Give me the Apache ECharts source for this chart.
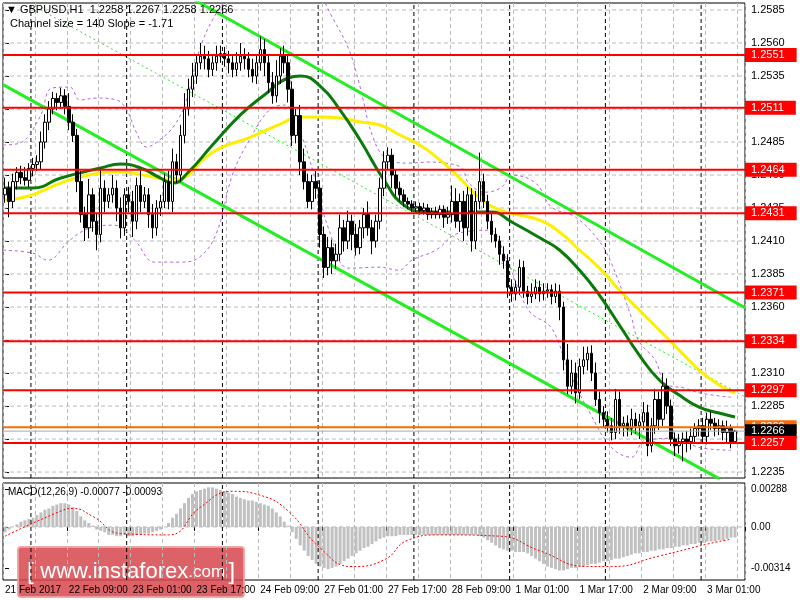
<!DOCTYPE html>
<html>
<head>
<meta charset="utf-8">
<script src="https://cdn.jsdelivr.net/npm/echarts@6/dist/echarts.min.js"></script>
<style>html,body{margin:0;padding:0;background:#fff}#chart{width:800px;height:600px}</style>
</head>
<body>
<div id="chart"></div>
<script>
// closes, one per H1 bar (21 Feb 17:00 .. 3 Mar 04:00)
const closes = [
  1.2450,1.2440,1.2455,1.2462,1.2458,1.2456,1.2465,1.2468,
  1.2470,1.2485,1.2500,1.2510,1.2518,1.2515,1.2520,1.2512,
  1.2500,1.2490,1.2455,1.2430,1.2420,1.2445,1.2425,1.2415,
  1.2450,1.2440,1.2445,1.2450,1.2435,1.2420,1.2445,1.2440,
  1.2425,1.2452,1.2440,1.2445,1.2430,1.2420,1.2435,1.2440,
  1.2455,1.2440,1.2470,1.2460,1.2490,1.2510,1.2525,1.2535,
  1.2545,1.2550,1.2548,1.2540,1.2545,1.2550,1.2552,1.2548,
  1.2545,1.2540,1.2545,1.2550,1.2548,1.2540,1.2535,1.2545,
  1.2555,1.2545,1.2530,1.2520,1.2535,1.2550,1.2545,1.2525,
  1.2490,1.2505,1.2470,1.2455,1.2440,1.2455,1.2450,1.2415,
  1.2390,1.2405,1.2395,1.2400,1.2420,1.2410,1.2425,1.2415,
  1.2405,1.2420,1.2430,1.2420,1.2410,1.2425,1.2450,1.2470,
  1.2475,1.2460,1.2450,1.2445,1.2440,1.2438,1.2435,1.2436,
  1.2433,1.2435,1.2430,1.2432,1.2430,1.2434,1.2428,1.2430,
  1.2440,1.2425,1.2440,1.2420,1.2445,1.2410,1.2440,1.2455,
  1.2440,1.2425,1.2415,1.2410,1.2400,1.2395,1.2375,1.2370,
  1.2375,1.2390,1.2372,1.2368,1.2370,1.2375,1.2370,1.2372,
  1.2373,1.2368,1.2372,1.2360,1.2320,1.2300,1.2310,1.2295,
  1.2315,1.2320,1.2325,1.2310,1.2290,1.2280,1.2275,1.2270,
  1.2265,1.2290,1.2270,1.2272,1.2268,1.2275,1.2270,1.2273,
  1.2280,1.2255,1.2270,1.2290,1.2275,1.2300,1.2285,1.2260,
  1.2255,1.2258,1.2260,1.2258,1.2262,1.2268,1.2270,1.2262,
  1.2275,1.2272,1.2268,1.2270,1.2265,1.2268,1.2258,1.2266
];
const firstOpen = 1.2445;
// wick lengths in pips above / below the body
const wickUp = [
  8,5,6,4,5,8,4,5, 5,8,6,6,5,4,6,5, 10,6,5,8,6,12,5,6, 15,6,5,10,6,8,5,6,
  8,6,12,6,5,8,6,5, 6,8,10,6,8,12,8,10, 6,10,8,6,5,8,6,5, 6,5,8,10,6,5,8,6,
  10,8,6,8,12,6,8,6, 6,5,8,10,6,5,8,6, 6,8,6,8,10,6,8,5, 8,6,5,10,6,5,8,8,
  6,5,4,5,4,3,3,4, 3,4,3,3,4,3,3,6, 12,10,6,8,6,5,8,22, 6,5,6,5,4,6,5,6,
  5,6,5,4,8,6,5,6, 5,4,6,5,4,12,10,8, 6,10,5,6,8,6,5,6, 6,8,6,5,6,8,5,6,
  8,6,6,8,6,10,6,5, 5,6,5,6,6,4,5,6, 5,6,4,5,4,6,3,1
];
const wickDn = [
  6,12,5,6,5,4,5,6, 5,6,5,6,4,6,5,6, 6,5,8,6,10,8,8,12, 6,8,5,6,10,8,6,8,
  12,6,8,5,10,8,6,6, 5,6,8,6,5,6,5,6, 6,5,8,6,5,6,5,6, 8,6,5,6,8,6,5,6,
  6,10,8,6,5,6,8,10, 8,6,10,6,5,6,8,10, 8,6,10,6,5,8,6,12, 6,5,8,6,10,5,6,6,
  6,10,6,5,4,4,3,3, 3,3,4,3,3,3,8,5, 6,5,8,10,6,8,6,6, 5,6,6,5,8,6,8,6,
  5,6,5,6,5,4,6,5, 5,6,5,10,8,6,6,8, 5,6,8,6,5,8,6,5, 6,5,6,8,6,5,6,10,
  6,8,5,6,8,5,6,5, 8,6,15,8,6,5,6,5, 6,5,6,5,6,8,5,0
];
// moving averages read at sampled bars [bar, price]
const maFast = [[0,1.24502],[7,1.24502],[14,1.24577],[24,1.24653],[29,1.24683],[34,1.24653],[39,1.24577],
  [42,1.24539],[46,1.24623],[52,1.24827],[59,1.25055],[65,1.25206],[71,1.25335],[74,1.2535],[79,1.25274],
  [84,1.25092],[89,1.24865],[95,1.24562],[100,1.24373],[106,1.2432],[114,1.2432],[122,1.2432],[127,1.24244],
  [135,1.24108],[139,1.24032],[144,1.2388],[149,1.23691],[154,1.23464],[159,1.23236],[164,1.23047],
  [169,1.22933],[174,1.22842],[179,1.22797],[183,1.22767]];
const maSlow = [[0,1.24411],[6,1.24441],[14,1.24539],[21,1.246],[29,1.24623],[36,1.24592],[42,1.24562],
  [46,1.246],[49,1.24698],[54,1.24805],[61,1.2488],[69,1.24986],[74,1.25039],[79,1.25039],[84,1.25032],
  [89,1.25002],[94,1.24979],[99,1.24903],[104,1.24827],[109,1.24714],[114,1.24577],[119,1.24426],
  [124,1.24335],[129,1.24297],[134,1.24259],[139,1.24168],[144,1.24032],[149,1.23895],[154,1.23729],
  [159,1.23577],[164,1.23426],[169,1.23274],[174,1.23123],[179,1.23009],[183,1.22948]];
// envelope bands read at sampled bars [bar, price]
const bandUp = [[-0.5,1.24827],[3.75,1.24842],[8.75,1.25039],[11.75,1.25259],[16.25,1.25266],[18.75,1.25168],
  [23,1.25183],[28,1.25168],[30.5,1.25092],[33,1.24918],[35.5,1.24812],[38.75,1.24865],[42.5,1.24978],
  [45.5,1.25168],[48.75,1.25547],[52,1.25774],[55.5,1.25926],[60,1.26077],[71.25,1.26153],[78.75,1.25964],
  [82,1.25797],[86.25,1.25547],[88.75,1.25297],[92.5,1.24865],[96.25,1.24713],[101.25,1.2469],[106.25,1.24698],
  [110.5,1.2469],[114.5,1.24652],[116.25,1.24539],[120.5,1.2447],[124.5,1.24508],[127,1.24599],[133,1.24539],
  [137,1.24357],[143,1.24281],[148.75,1.24107],[152,1.23932],[157,1.23523],[158.75,1.23349],[163,1.23197],
  [165.5,1.23023],[170.5,1.22985],[174.5,1.22947],[182,1.22917]];
const bandDn = [[-0.5,1.24031],[7,1.24008],[10.75,1.23955],[16.25,1.24107],[21.25,1.24198],[27.5,1.2422],
  [32.5,1.24107],[37.5,1.2394],[43.75,1.2394],[48.75,1.23978],[53,1.2416],[57,1.24599],[61.25,1.24865],
  [66.25,1.25092],[70,1.2513],[73.75,1.2494],[77.5,1.24599],[81.25,1.24182],[86.25,1.23894],[93.75,1.23902],
  [98.75,1.23879],[102,1.23955],[108,1.24031],[113.75,1.2416],[121.25,1.24182],[125.5,1.23978],[131.25,1.23576],
  [137,1.2344],[141.25,1.23121],[146.25,1.22818],[152,1.22538],[157,1.22462],[160.5,1.22591],[168.75,1.22606],
  [173.75,1.22538],[182,1.22515]];
// regression channel end points
const chUpper = [[47.5,1.25926],[185.5,1.23595]];
const chLower = [[-0.5,1.25285],[179,1.2230]];
const chMid = [[9,1.2585],[185.5,1.2292]];
// support / resistance levels
const levels = [1.2551,1.2511,1.2464,1.2431,1.2371,1.2334,1.2297,1.2257];
const lastPrice = 1.2266, askPrice = 1.2269;
const priceTicks = [1.2585,1.2560,1.2535,1.2510,1.2485,1.2460,1.2435,1.2410,1.2385,1.2360,1.2335,1.2310,1.2285,1.2260,1.2235];
const timeLabels = ['21 Feb 2017','22 Feb 09:00','23 Feb 01:00','23 Feb 17:00','24 Feb 09:00','27 Feb 01:00',
  '27 Feb 17:00','28 Feb 09:00','1 Mar 01:00','1 Mar 17:00','2 Mar 09:00','3 Mar 01:00'];
const dayBreaks = [6.5,30.5,54.5,78.5,102.5,126.5,150.5,174.5];
// MACD histogram and signal
const macdHist = [
  -0.0004,-0.0002,0.0000,0.0002,0.0004,0.0005,0.0006,0.0007,
  0.0009,0.0011,0.0013,0.0014,0.0016,0.0017,0.0018,0.0018,
  0.0017,0.0015,0.0012,0.0008,0.0005,0.0003,0.0001,-0.0002,
  -0.0003,-0.0004,-0.0006,-0.0006,-0.0007,-0.0007,-0.0006,-0.0007,
  -0.0007,-0.0006,-0.0006,-0.0005,-0.0005,-0.0004,-0.0003,-0.0002,
  0.0000,0.0003,0.0007,0.0010,0.0014,0.0018,0.0022,0.0025,
  0.0027,0.0028,0.0029,0.0030,0.0030,0.0029,0.0028,0.0027,
  0.0026,0.0025,0.0023,0.0022,0.0021,0.0020,0.0020,0.0019,
  0.0018,0.0017,0.0016,0.0014,0.0011,0.0008,0.0004,0.0001,
  -0.0004,-0.0009,-0.0014,-0.0018,-0.0022,-0.0025,-0.0028,-0.0030,
  -0.0031,-0.0032,-0.0031,-0.0030,-0.0028,-0.0026,-0.0024,-0.0022,
  -0.0020,-0.0018,-0.0016,-0.0015,-0.0013,-0.0011,-0.0009,-0.0008,
  -0.0007,-0.0007,-0.0007,-0.0006,-0.0006,-0.0006,-0.0006,-0.0006,
  -0.0006,-0.0006,-0.0006,-0.0006,-0.0006,-0.0006,-0.0006,-0.0006,
  -0.0006,-0.0006,-0.0006,-0.0006,-0.0006,-0.0006,-0.0006,-0.0007,
  -0.0008,-0.0010,-0.0012,-0.0014,-0.0016,-0.0017,-0.0018,-0.0018,
  -0.0019,-0.0019,-0.0019,-0.0020,-0.0022,-0.0024,-0.0026,-0.0028,
  -0.0030,-0.0031,-0.0032,-0.0033,-0.0033,-0.0032,-0.0031,-0.0031,
  -0.0030,-0.0030,-0.0029,-0.0028,-0.0028,-0.0027,-0.0026,-0.0026,
  -0.0025,-0.0024,-0.0024,-0.0023,-0.0022,-0.0021,-0.0020,-0.0020,
  -0.0019,-0.0019,-0.0018,-0.0018,-0.0017,-0.0017,-0.0016,-0.0016,
  -0.0015,-0.0015,-0.0014,-0.0014,-0.0013,-0.0013,-0.0012,-0.0012,
  -0.0011,-0.0011,-0.0011,-0.0010,-0.0010,-0.0009,-0.0008,-0.0008
];
const macdSignal = [[0,-0.0007],[14,0.0012],[17,0.0014],[22,0.0008],[29,-0.0005],[41,-0.0006],[49,0.0015],
  [57,0.0027],[64,0.0024],[71,0.0012],[79,-0.0016],[87,-0.0030],[95,-0.0025],[101,-0.0010],[109,-0.0006],
  [124,-0.0007],[134,-0.0018],[146,-0.0030],[152,-0.0030],[164,-0.0022],[176,-0.0013],[182,-0.00093]];
const macdTicks = [0.00288, 0, -0.00314];

const FONT = 'Liberation Sans';
const nCat = 186;
const X0 = -0.5, X1 = nCat - 0.5;
const P_MIN = 1.22305, P_MAX = 1.25903, M_MIN = -0.00402, M_MAX = 0.00333;
const cats = Array.from({length: nCat}, (_, i) => String(i));

// build OHLC rows: open = previous close
const candles = closes.map((c, i) => {
  const o = i === 0 ? firstOpen : closes[i - 1];
  const hi = Math.max(o, c) + wickUp[i] / 10000;
  const lo = Math.min(o, c) - wickDn[i] / 10000;
  return [o, c, lo, hi];
});

const chart = echarts.init(document.getElementById('chart'));

const hLine = (v, xa, ya, color, width, type, z) => ({
  type: 'line', xAxisIndex: xa, yAxisIndex: ya, data: [[X0, v], [X1, v]], symbol: 'none', silent: true,
  lineStyle: { color, width, type }, z
});
const vLine = (v, xa, ya, lo, hi) => ({
  type: 'line', xAxisIndex: xa, yAxisIndex: ya, data: [[v, lo], [v, hi]], symbol: 'none', silent: true,
  lineStyle: { color: '#000', width: 1, type: [4, 3] }, z: 2
});
const tag = (v, bg, z) => Object.assign(hLine(v, 1, 0, bg, 2, 'solid', z), {
  lineStyle: { color: bg === '#000' ? '#aaa' : bg, width: bg === '#000' ? 1 : 2 },
  endLabel: { show: true, formatter: () => v.toFixed(4), backgroundColor: bg, color: '#fff',
    fontFamily: FONT, fontSize: 11, padding: [2, 12, 1, 6], distance: 0 }
});
const path = (data, color, width, type, z, smooth) => ({
  type: 'line', xAxisIndex: 1, yAxisIndex: 0, data, symbol: 'none', silent: true, smooth: smooth || false,
  lineStyle: { color, width, type }, z
});

const series = [];
priceTicks.forEach(v => series.push(hLine(v, 1, 0, '#bbb', 1, [4, 3], 1)));
dayBreaks.forEach(v => series.push(vLine(v, 1, 0, P_MIN, P_MAX)));
dayBreaks.forEach(v => series.push(vLine(v, 3, 1, M_MIN, M_MAX)));
series.push(hLine(0, 3, 1, '#bbb', 1, [4, 3], 1));
series.push(
  path(bandUp, '#b266e0', 1, [3, 3], 3, 0.4),
  path(bandDn, '#b266e0', 1, [3, 3], 3, 0.4),
  path(chMid, '#22ee22', 1, [2, 3], 3),
  path(chUpper, '#22ee22', 3, 'solid', 4),
  path(chLower, '#22ee22', 3, 'solid', 4),
  path(maSlow, '#ffee00', 3, 'solid', 5, true),
  path(maFast, '#0a7a0a', 3, 'solid', 5, true),
  { type: 'candlestick', xAxisIndex: 0, yAxisIndex: 0, data: candles, barWidth: 3, z: 6,
    itemStyle: { color: '#fff', color0: '#000', borderColor: '#000', borderColor0: '#000', borderWidth: 1 } },
  { type: 'bar', xAxisIndex: 2, yAxisIndex: 1, data: macdHist, barWidth: 3,
    itemStyle: { color: '#c0c0c0' } },
  { type: 'line', xAxisIndex: 3, yAxisIndex: 1, data: macdSignal, symbol: 'none', smooth: true,
    lineStyle: { color: '#ff0000', width: 1, type: [2, 2] }, z: 5 }
);
series.push(tag(askPrice, '#ff6a00', 7));
series.push(tag(lastPrice, '#000', 8));
levels.forEach(v => series.push(tag(v, '#ff0000', 9)));

const hiddenX = (grid) => ({ type: 'value', gridIndex: grid, min: X0, max: X1, interval: 8,
  axisLine: { show: false }, axisTick: { show: false }, axisLabel: { show: false },
  splitLine: { show: true, lineStyle: { color: '#bbb', type: [4, 3] } } });

const option = {
  animation: false,
  backgroundColor: '#fff',
  textStyle: { fontFamily: FONT },
  grid: [
    { left: 3, right: 55, top: 3, bottom: 122, show: true, borderColor: '#000', borderWidth: 1 },
    { left: 3, right: 55, top: 483, bottom: 20, show: true, borderColor: '#000', borderWidth: 1 }
  ],
  xAxis: [
    { type: 'category', gridIndex: 0, data: cats, boundaryGap: true, show: false },
    hiddenX(0),
    { type: 'category', gridIndex: 1, data: cats, boundaryGap: true,
      axisLine: { show: false },
      axisTick: { show: true, interval: i => i % 16 === 0, length: 4, lineStyle: { color: '#000' } },
      axisLabel: { interval: i => i % 16 === 0, formatter: (v, i) => timeLabels[i / 16] || '',
        color: '#000', fontSize: 10, fontFamily: FONT, align: 'left', margin: 5 } },
    hiddenX(1)
  ],
  yAxis: [
    { type: 'value', gridIndex: 0, position: 'right', min: P_MIN, max: P_MAX,
      axisLine: { show: false }, splitLine: { show: false },
      axisTick: { show: true, customValues: priceTicks, length: 4, lineStyle: { color: '#000' } },
      axisLabel: { customValues: priceTicks, formatter: v => v.toFixed(4), color: '#000', fontSize: 11,
        fontFamily: FONT, margin: 6 } },
    { type: 'value', gridIndex: 1, position: 'right', min: M_MIN, max: M_MAX,
      axisLine: { show: false }, splitLine: { show: false },
      axisTick: { show: true, customValues: macdTicks, length: 4, lineStyle: { color: '#000' } },
      axisLabel: { customValues: macdTicks, formatter: v => v === 0 ? '0.00' : v.toFixed(5), color: '#000',
        fontSize: 10, fontFamily: FONT, margin: 6 } }
  ],
  series,
  graphic: [
    { type: 'text', left: 6, top: 4, z: 20, style: { text: '▼ GBPUSD,H1  1.2258 1.2267 1.2258 1.2266',
      fill: '#000', font: '11px "Liberation Sans"' } },
    { type: 'text', left: 10, top: 18, z: 20, style: { text: 'Channel size = 140 Slope = -1.71',
      fill: '#000', font: '11px "Liberation Sans"' } },
    { type: 'text', left: 8, top: 487, z: 20, style: { text: 'MACD(12,26,9) -0.00077 -0.00093',
      fill: '#000', font: '10px "Liberation Sans"' } },
    { type: 'group', left: 17, top: 546, z: 30, children: [
      { type: 'rect', shape: { x: 0, y: 0, width: 226, height: 50, r: 3 },
        style: { fill: 'rgba(214,70,78,0.85)', stroke: 'rgba(240,160,160,0.9)', lineWidth: 2 } },
      { type: 'text', x: 113, y: 25, style: { text: '{b|[}  {w|www.instaforex}{c|.com} {b|]}',
        align: 'center', verticalAlign: 'middle',
        rich: { b: { fill: '#fff', font: '24px "Liberation Sans"' }, w: { fill: '#fff', font: '22px "Liberation Sans"' },
          c: { fill: '#fff', font: '17px "Liberation Sans"' } } } }
    ] }
  ]
};
chart.setOption(option);
</script>
</body>
</html>
